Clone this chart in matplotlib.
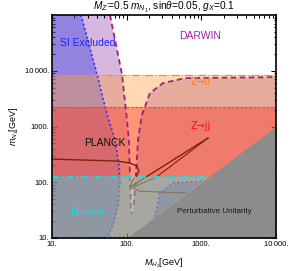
import numpy as np
import matplotlib
matplotlib.use("Agg")
import matplotlib.pyplot as plt
from matplotlib.ticker import FixedLocator, LogLocator, NullFormatter

plt.rcParams['font.family'] = ['Liberation Sans', 'DejaVu Sans']
plt.rcParams['mathtext.fontset'] = 'custom'
plt.rcParams['mathtext.rm'] = 'Liberation Sans'
plt.rcParams['mathtext.it'] = 'Liberation Sans:italic'

# boundaries (M_H2, m_N1 in GeV)
si_x = [24.5, 40, 54.5, 69.7, 78.9, 81.3, 76.5, 65.6, 54.5]
si_y = [1e5, 8690, 1670, 570, 203, 101, 39, 17, 10]
si2_x = [239, 279, 417, 1050, 1090, 239]
si2_y = [23.9, 64, 97, 105, 109, 23.9]

darwin_left_x = [59.8, 86.5, 101, 107, 110.7, 114, 121]
darwin_left_y = [1e5, 8690, 1303, 570, 134.5, 29.2, 28]
darwin_right_x = [125, 133, 141.7, 160, 205, 306, 603, 10000]
darwin_right_y = [39, 134.5, 570, 1600, 3970, 6000, 7360, 7680]

zll_limit = 8340
zjj_limit = 2230
h1inv_limit = 124

planck_a_x = [10, 74, 111, 137, 146, 137, 121, 111, 1225]
planck_a_y = [260, 240, 221, 195, 159, 134, 109, 82, 620]
planck_b_x = [1225, 250, 118, 150, 641]
planck_b_y = [620, 124, 80, 69, 64]

unitarity_x = [100, 10000]
unitarity_y = [10, 1000]

xticks = [10, 100, 1000, 10000]
xtick_labels = ['10.', '100.', '1000.', '10\u2009000.']
yticks = [10, 100, 1000, 10000]
ytick_labels = ['10.', '100.', '1000.', '10\u2009000.']

fig = plt.figure(figsize=(2.91, 2.71), dpi=100)
ax = fig.add_axes([52 / 291, 33 / 271, 224 / 291, 223 / 271])
ax.set_xscale('log')
ax.set_yscale('log')
ax.set_xlim(10, 10000)
ax.set_ylim(10, 1e5)

# DARWIN region (left of left curve, right of right curve)
dar_x = [10] + darwin_left_x + darwin_right_x + [10000, 10]
dar_y = [1e5] + darwin_left_y + darwin_right_y + [10, 10]
ax.fill(dar_x, dar_y, color='#b070c0', alpha=0.5, lw=0, zorder=1)

# SI excluded
ax.fill_betweenx(si_y, 10, si_x, color='#5050e0', alpha=0.5, lw=0, zorder=2)
ax.fill(si2_x, si2_y, color='#5050e0', alpha=0.5, lw=0, zorder=2)

# Z -> ll and Z -> jj
ax.fill_between([10, 10000], h1inv_limit, zll_limit, color='#ffa040', alpha=0.4, lw=0, zorder=3)
ax.fill_between([10, 10000], h1inv_limit, zjj_limit, color='#ff3020', alpha=0.4, lw=0, zorder=4)

# boundary lines
ax.plot(darwin_left_x, darwin_left_y, color='#a0207a', ls=(0, (3, 2)), lw=1.3, zorder=5)
ax.plot(darwin_right_x, darwin_right_y, color='#a0207a', ls=(0, (3, 2)), lw=1.3, zorder=5)
ax.plot(si_x, si_y, color='#3030ff', ls=(0, (1, 1.5)), lw=1.3, zorder=5)
ax.plot(si2_x[:4], si2_y[:4], color='#3030ff', ls=(0, (1, 1.5)), lw=1.3, zorder=5)
ax.plot([10, 10000], [zll_limit, zll_limit], color='#ff8c1a', ls='-.', lw=0.9, zorder=5)
ax.plot([10, 10000], [zjj_limit, zjj_limit], color='#ff4040', ls=(0, (2, 1.5)), lw=0.9, zorder=5)
ax.plot(planck_a_x, planck_a_y, color='#7a2408', lw=1.0, zorder=5)
ax.plot(planck_b_x, planck_b_y, color='#7a2408', lw=0.8, zorder=5)

# H1 -> inv
ax.fill_between([10, 10000], 10, h1inv_limit, color='#8fa083', alpha=0.66, lw=0, zorder=6)
ax.plot([10, h1inv_limit * 10], [h1inv_limit, h1inv_limit], color='#00e8e8',
        ls=(0, (4, 1.5, 1, 1.5)), lw=1.3, zorder=7)

# perturbative unitarity
ax.fill_between(unitarity_x + [10000], [10, 10, 10], unitarity_y + [1000],
                color='#8c8c8c', lw=0, zorder=8)

lab = dict(transform=ax.transAxes, ha='center', va='center', zorder=10)
ax.text(0.16, 0.874, 'SI Excluded', color='#2020ff', fontsize=7.5, **lab)
ax.text(0.66, 0.906, 'DARWIN', color='#a020a0', fontsize=7.5, **lab)
ax.text(0.665, 0.70, 'Z\u2192ll', color='#ff8000', fontsize=7, family='DejaVu Sans', **lab)
ax.text(0.665, 0.502, 'Z\u2192jj', color='#ff1010', fontsize=7, family='DejaVu Sans', **lab)
ax.text(0.235, 0.426, 'PLANCK', color='#101010', fontsize=7.5, **lab)
ax.text(0.16, 0.117, 'H$_1$\u2192inv', color='#00e8e8', fontsize=7, family='DejaVu Sans',
        style='italic', **lab)
ax.text(0.723, 0.117, 'Perturbative Unitarity', color='#1a1a1a', fontsize=5.8, **lab)

ax.set_title("$M_{Z'}$=0.5 $m_{N_1}$, sin$\\theta$=0.05, $g_X$=0.1", fontsize=7.3, pad=3)
ax.set_xlabel('$M_{H_2}$[GeV]', fontsize=6.5, labelpad=6)
ax.set_ylabel('$m_{N_1}$[GeV]', fontsize=6.5, labelpad=3)

ax.xaxis.set_major_locator(FixedLocator(xticks))
ax.set_xticklabels(xtick_labels)
ax.yaxis.set_major_locator(FixedLocator(yticks))
ax.set_yticklabels(ytick_labels)
ax.xaxis.set_minor_locator(LogLocator(base=10, subs=np.arange(2, 10)))
ax.yaxis.set_minor_locator(LogLocator(base=10, subs=np.arange(2, 10)))
ax.xaxis.set_minor_formatter(NullFormatter())
ax.yaxis.set_minor_formatter(NullFormatter())
ax.tick_params(which='both', direction='in', top=True, right=True, labelsize=5.5, pad=2, width=0.8)
ax.tick_params(which='major', length=3.5)
ax.tick_params(which='minor', length=1.8)
for s in ax.spines.values():
    s.set_linewidth(1.2)
    s.set_zorder(11)

fig.savefig('out.png', dpi=100)
